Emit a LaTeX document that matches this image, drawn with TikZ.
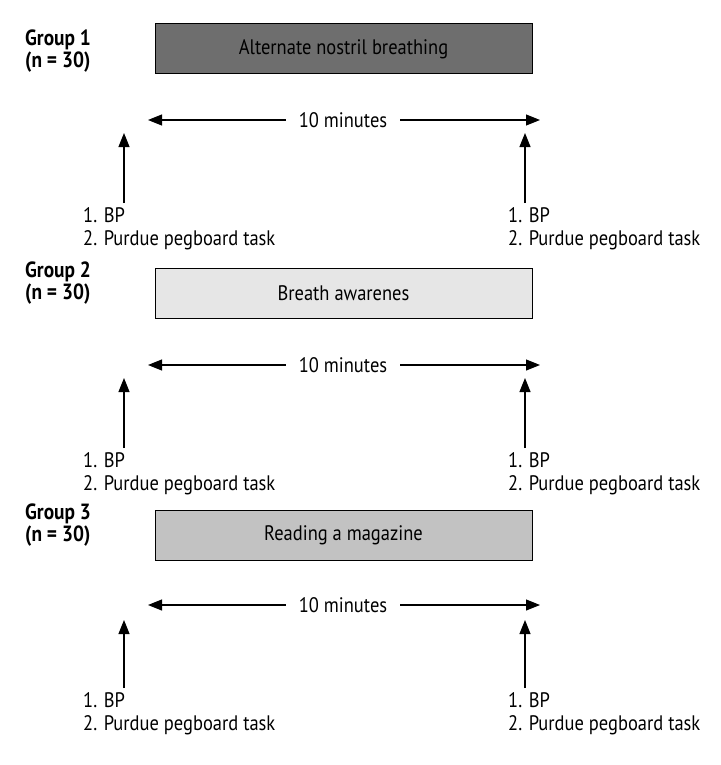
\documentclass[tikz,border=0pt]{standalone}
\usepackage{fontspec}
\setmainfont{PT Sans}[FakeStretch=0.88]
\usetikzlibrary{arrows.meta}
\definecolor{boxA}{HTML}{6E6E6E}
\definecolor{boxB}{HTML}{E6E6E6}
\definecolor{boxC}{HTML}{C2C2C2}
\tikzset{
  every node/.style={font=\fontsize{21}{24}\selectfont, text=black},
  grp/.style={anchor=north west, align=left, inner sep=0pt, font=\bfseries\fontsize{22}{22}\selectfont},
  phase/.style={draw=black, line width=1pt, minimum width=377pt, minimum height=50pt, inner sep=0pt},
  meas/.style={anchor=north west, align=left, inner sep=0pt, font=\fontsize{21}{23.5}\selectfont},
  dur/.style={inner xsep=13pt, inner ysep=0pt},
  arr/.style={line width=1.1pt, -{Triangle[length=14pt,width=11pt]}},
}
\begin{document}
\begin{tikzpicture}[x=1pt,y=-1pt]
\useasboundingbox (0,0) rectangle (720,765);
% ---------- Group 1
\node[grp] (g1) at (25,30) {Group 1\\(n = 30)};
\node[phase, fill=boxA] (b1) at (343.5,49) {Alternate nostril breathing};
\node[dur] (d1) at (343,120) {10 minutes};
\coordinate (d1l) at (148,120);
\coordinate (d1r) at (540,120);
\draw[arr] (d1.west) -- (d1l);
\draw[arr] (d1.east) -- (d1r);
\coordinate (v1ls) at (124,203); \coordinate (v1le) at (124,133);
\coordinate (v1rs) at (525,203); \coordinate (v1re) at (525,133);
\draw[arr] (v1ls) -- (v1le);
\draw[arr] (v1rs) -- (v1re);
\node[meas] (m1l) at (83,207) {1. BP\\2. Purdue pegboard task};
\node[meas] (m1r) at (508,207) {1. BP\\2. Purdue pegboard task};
% ---------- Group 2
\node[grp] (g2) at (25,262) {Group 2\\(n = 30)};
\node[phase, fill=boxB] (b2) at (343.5,293.5) {Breath awarenes};
\node[dur] (d2) at (343,365) {10 minutes};
\coordinate (d2l) at (148,365);
\coordinate (d2r) at (540,365);
\draw[arr] (d2.west) -- (d2l);
\draw[arr] (d2.east) -- (d2r);
\coordinate (v2ls) at (124,448); \coordinate (v2le) at (124,378);
\coordinate (v2rs) at (525,448); \coordinate (v2re) at (525,378);
\draw[arr] (v2ls) -- (v2le);
\draw[arr] (v2rs) -- (v2re);
\node[meas] (m2l) at (83,452) {1. BP\\2. Purdue pegboard task};
\node[meas] (m2r) at (508,452) {1. BP\\2. Purdue pegboard task};
% ---------- Group 3
\node[grp] (g3) at (25,504) {Group 3\\(n = 30)};
\node[phase, fill=boxC] (b3) at (343.5,535) {Reading a magazine};
\node[dur] (d3) at (343,605) {10 minutes};
\coordinate (d3l) at (148,605);
\coordinate (d3r) at (540,605);
\draw[arr] (d3.west) -- (d3l);
\draw[arr] (d3.east) -- (d3r);
\coordinate (v3ls) at (124,688); \coordinate (v3le) at (124,620);
\coordinate (v3rs) at (525,688); \coordinate (v3re) at (525,620);
\draw[arr] (v3ls) -- (v3le);
\draw[arr] (v3rs) -- (v3re);
\node[meas] (m3l) at (83,692) {1. BP\\2. Purdue pegboard task};
\node[meas] (m3r) at (508,692) {1. BP\\2. Purdue pegboard task};
\end{tikzpicture}
\end{document}
